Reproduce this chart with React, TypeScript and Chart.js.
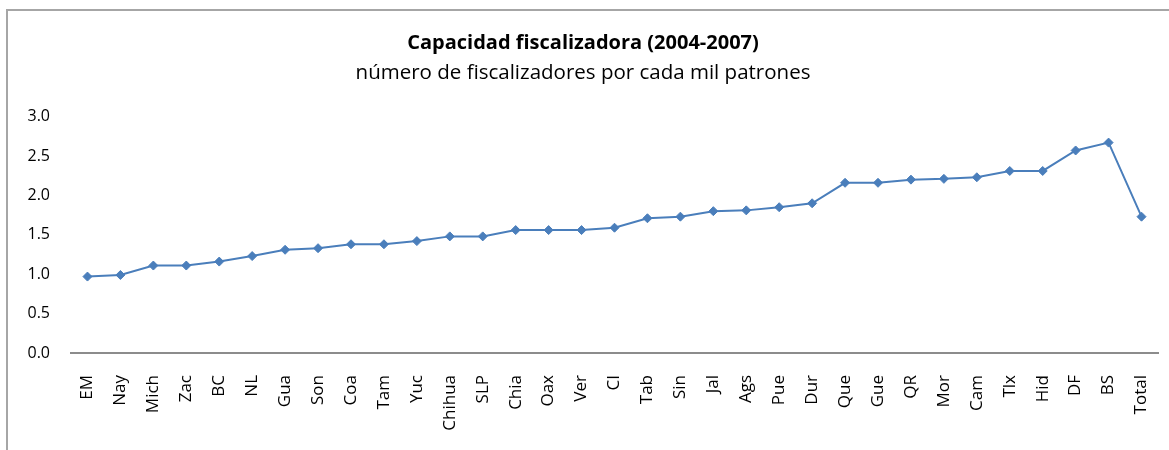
import React, { useEffect, useRef } from "react";
import { Chart, registerables } from "chart.js";

Chart.register(...registerables);

const categories: string[] = [
  "EM", "Nay", "Mich", "Zac", "BC", "NL", "Gua", "Son", "Coa", "Tam", "Yuc",
  "Chihua", "SLP", "Chia", "Oax", "Ver", "CI", "Tab", "Sin", "Jal", "Ags",
  "Pue", "Dur", "Que", "Gue", "QR", "Mor", "Cam", "Tlx", "Hid", "DF", "BS", "Total",
];

const values: number[] = [
  0.97, 0.99, 1.11, 1.11, 1.16, 1.23, 1.31, 1.33, 1.38, 1.38, 1.42,
  1.48, 1.48, 1.56, 1.56, 1.56, 1.59, 1.71, 1.73, 1.80, 1.81,
  1.85, 1.90, 2.16, 2.16, 2.20, 2.21, 2.23, 2.31, 2.31, 2.57, 2.67, 1.73,
];

const titleText = "Capacidad fiscalizadora (2004-2007)";
const subtitleText = "número de fiscalizadores por cada mil patrones";

const yMin = 0;
const yMax = 3;
const yStep = 0.5;

export default function App() {
  const canvasRef = useRef<HTMLCanvasElement | null>(null);

  useEffect(() => {
    const canvas = canvasRef.current;
    if (!canvas) return;
    const chart = new Chart(canvas, {
      type: "line",
      data: {
        labels: categories,
        datasets: [
          {
            data: values,
            borderColor: "#4A7EBB",
            backgroundColor: "#4A7EBB",
            borderWidth: 2,
            pointStyle: "rectRot",
            pointRadius: 4.5,
            pointBorderWidth: 1,
            pointBackgroundColor: "#4A7EBB",
            pointBorderColor: "#4A7EBB",
            tension: 0,
          },
        ],
      },
      options: {
        animation: false,
        responsive: false,
        maintainAspectRatio: false,
        layout: { padding: { left: 0, right: 30, top: 0, bottom: 0 } },
        plugins: {
          legend: { display: false },
          tooltip: { enabled: false },
          title: {
            display: true,
            text: titleText,
            color: "#000",
            font: { family: "'Open Sans'", size: 20, weight: "bold" },
            padding: { top: 20, bottom: 6 },
          },
          subtitle: {
            display: true,
            text: subtitleText,
            color: "#000",
            font: { family: "'Open Sans'", size: 20.5, weight: "normal" },
            padding: { top: 0, bottom: 31 },
          },
        },
        scales: {
          x: {
            offset: true,
            grid: { display: false, drawTicks: false },
            border: { display: true, color: "#8c8c8c", width: 2 },
            ticks: {
              color: "#000",
              font: { family: "'Open Sans'", size: 17 },
              minRotation: 90,
              maxRotation: 90,
              padding: 22,
              autoSkip: false,
            },
            afterFit: (scale: any) => {
              scale.height = 118;
            },
          },
          y: {
            min: yMin,
            max: yMax,
            grid: { display: false, drawTicks: false },
            border: { display: false },
            ticks: {
              stepSize: yStep,
              color: "#000",
              font: { family: "'Open Sans'", size: 16 },
              padding: 21,
              callback: (v: any) => Number(v).toFixed(1),
            },
            afterFit: (scale: any) => {
              scale.width = 63;
            },
          },
        },
      },
    });
    return () => chart.destroy();
  }, []);

  return (
    <div
      style={{
        position: "fixed",
        left: 6,
        top: 9,
        width: 1180,
        height: 460,
        border: "2px solid #a6a6a6",
        background: "#fff",
      }}
    >
      <canvas ref={canvasRef} width={1180} height={460} style={{ display: "block" }} />
    </div>
  );
}
